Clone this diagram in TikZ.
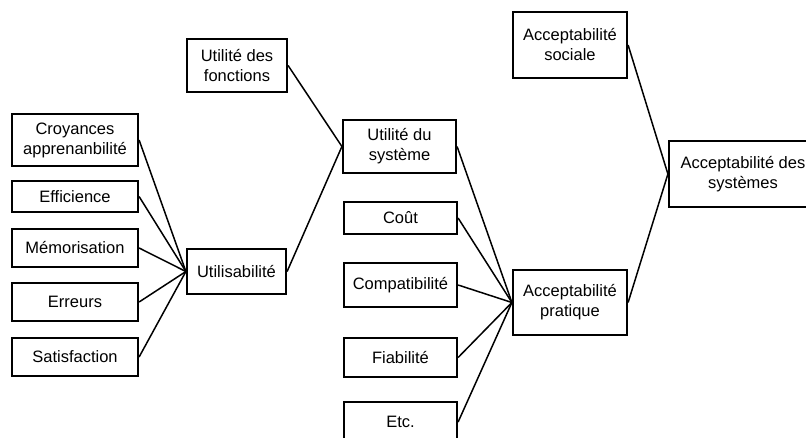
\documentclass[tikz,border=0pt]{standalone}
\usepackage{fontspec}
\setmainfont{Liberation Sans}
\usepackage{tikz}
\usetikzlibrary{positioning}

\begin{document}
\begin{tikzpicture}[x=1pt,y=-1pt,
        box/.style={draw,line width=2.2pt,align=center,inner sep=0pt,fill=white,
            font=\fontsize{16.5}{20}\selectfont},
        leftbox/.style={box,minimum width=126pt},
        midbox/.style={box,minimum width=113pt},
        rightbox/.style={box,minimum width=114pt},
        link/.style={line width=1.5pt}]
        \useasboundingbox (0,0) rectangle (806,437);
        % criteres d'utilisabilite
        \node[leftbox,minimum height=52pt] (croy) at (75,140) {Croyances\\apprenanbilité};
        \node[leftbox,minimum height=31pt] (eff) at (75,196.5) {Efficience};
        \node[leftbox,minimum height=38pt] (mem) at (75,248) {Mémorisation};
        \node[leftbox,minimum height=38pt] (err) at (75,302) {Erreurs};
        \node[leftbox,minimum height=38pt] (sat) at (75,357) {Satisfaction};
        \node[box,minimum width=99pt,minimum height=45pt] (usab) at (236.5,271.5) {Utilisabilité};
        \node[box,minimum width=100pt,minimum height=53pt] (fonc) at (237,65.5) {Utilité des\\fonctions};
        % acceptabilite pratique
        \node[midbox,minimum height=53pt] (sys) at (399.5,146.5) {Utilité du\\système};
        \node[midbox,minimum height=32pt] (cout) at (400.5,218) {Coût};
        \node[midbox,minimum height=44pt] (compat) at (400.5,285) {Compatibilité};
        \node[midbox,minimum height=39pt] (fiab) at (400.5,357.5) {Fiabilité};
        \node[midbox,minimum height=40pt] (etc) at (400.5,422) {Etc.};
        \node[rightbox,minimum height=65pt] (prat) at (570,302.5) {Acceptabilité\\pratique};
        \node[rightbox,minimum height=66pt] (soc) at (570,45) {Acceptabilité\\sociale};
        \node[box,minimum width=148pt,minimum height=66pt] (accsys) at (743,174) {Acceptabilité des\\systèmes};
        \foreach \n in {croy,eff,mem,err,sat}
            \draw[link] (\n.east) -- (usab.west);
        \foreach \n in {fonc,usab}
            \draw[link] (\n.east) -- (sys.west);
        \foreach \n in {sys,cout,compat,fiab,etc}
            \draw[link] (\n.east) -- (prat.west);
        \foreach \n in {soc,prat}
            \draw[link] (\n.east) -- (accsys.west);
    \end{tikzpicture}
\end{document}
